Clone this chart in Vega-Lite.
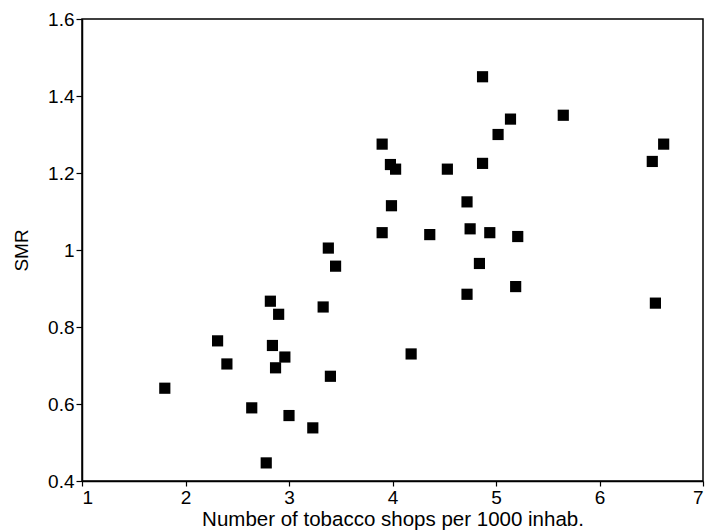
{
  "$schema": "https://vega.github.io/schema/vega-lite/v6.json",
  "autosize": {"type": "none"},
  "padding": {"left": 82, "top": 19, "right": 4, "bottom": 49},
  "width": 621,
  "height": 462,
  "background": "white",
  "config": {
    "view": {"stroke": "black", "strokeWidth": 1.5},
    "font": "Liberation Sans",
    "axis": {
      "grid": false,
      "domainColor": "black",
      "domainWidth": 1.5,
      "tickColor": "black",
      "tickWidth": 1.2,
      "labelColor": "black",
      "titleColor": "black",
      "labelFontSize": 19,
      "titleFontSize": 19,
      "titleFontWeight": "normal"
    }
  },
  "data": {
    "values": [
      {"shops": 4.87, "SMR": 1.45},
      {"shops": 5.14, "SMR": 1.34},
      {"shops": 5.65, "SMR": 1.35},
      {"shops": 5.02, "SMR": 1.30},
      {"shops": 3.90, "SMR": 1.275},
      {"shops": 6.62, "SMR": 1.275},
      {"shops": 6.51, "SMR": 1.23},
      {"shops": 3.98, "SMR": 1.222},
      {"shops": 4.03, "SMR": 1.21},
      {"shops": 4.53, "SMR": 1.21},
      {"shops": 4.87, "SMR": 1.225},
      {"shops": 3.99, "SMR": 1.115},
      {"shops": 4.72, "SMR": 1.125},
      {"shops": 3.90, "SMR": 1.045},
      {"shops": 4.36, "SMR": 1.04},
      {"shops": 4.75, "SMR": 1.055},
      {"shops": 4.94, "SMR": 1.045},
      {"shops": 5.21, "SMR": 1.035},
      {"shops": 4.84, "SMR": 0.965},
      {"shops": 5.19, "SMR": 0.905},
      {"shops": 4.72, "SMR": 0.885},
      {"shops": 6.54, "SMR": 0.862},
      {"shops": 4.18, "SMR": 0.73},
      {"shops": 3.45, "SMR": 0.958},
      {"shops": 3.38, "SMR": 1.005},
      {"shops": 2.82, "SMR": 0.867},
      {"shops": 2.90, "SMR": 0.833},
      {"shops": 3.33, "SMR": 0.852},
      {"shops": 2.31, "SMR": 0.764},
      {"shops": 2.84, "SMR": 0.752},
      {"shops": 2.96, "SMR": 0.722},
      {"shops": 2.40, "SMR": 0.704},
      {"shops": 2.87, "SMR": 0.694},
      {"shops": 3.40, "SMR": 0.672},
      {"shops": 1.80, "SMR": 0.641},
      {"shops": 2.64, "SMR": 0.59},
      {"shops": 3.00, "SMR": 0.57},
      {"shops": 3.23, "SMR": 0.538},
      {"shops": 2.78, "SMR": 0.447}
    ]
  },
  "mark": {"type": "square", "size": 125, "color": "black", "opacity": 1},
  "encoding": {
    "x": {
      "field": "shops",
      "type": "quantitative",
      "scale": {"domain": [1, 7], "nice": false, "zero": false},
      "axis": {
        "title": "Number of tobacco shops per 1000 inhab.",
        "values": [1, 2, 3, 4, 5, 6, 7],
        "format": "d",
        "tickSize": 5,
        "labelPadding": 2,
        "titlePadding": 2,
        "titleFontSize": 20.5
      }
    },
    "y": {
      "field": "SMR",
      "type": "quantitative",
      "scale": {"domain": [0.4, 1.6], "nice": false, "zero": false},
      "axis": {
        "title": "SMR",
        "values": [0.4, 0.6, 0.8, 1.0, 1.2, 1.4, 1.6],
        "format": ".1~f",
        "tickSize": 6,
        "labelPadding": 2,
        "titlePadding": 16
      }
    }
  }
}
